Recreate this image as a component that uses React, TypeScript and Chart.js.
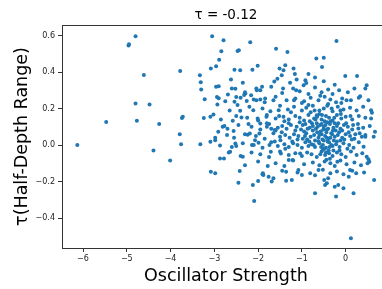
import React, { useEffect, useRef } from "react";
import { Chart, registerables } from "chart.js";

Chart.register(...registerables);

const titleText = "τ = -0.12";
const xTitle = "Oscillator Strength";
const yTitle = "τ(Half-Depth Range)";
const xTickValues = [-6, -5, -4, -3, -2, -1, 0];
const xTickLabels = ["−6", "−5", "−4", "−3", "−2", "−1", "0"];
const yTickValues = [-0.4, -0.2, 0, 0.2, 0.4, 0.6];
const yTickLabels = ["−0.4", "−0.2", "0.0", "0.2", "0.4", "0.6"];

// Outlying / sparse points
const outerPoints: number[][] = [
  [-6.13, 0.0], [-5.47, 0.127], [-4.96, 0.546], [-4.95, 0.553], [-4.8, 0.596], [-4.8, 0.228],
  [-4.77, 0.133], [-4.61, 0.384], [-4.48, 0.222], [-4.39, -0.03], [-4.26, 0.115], [-4.01, -0.084],
  [-3.78, 0.406], [-3.79, 0.06], [-3.76, 0.004], [-3.74, 0.149], [-3.72, 0.155], [-3.33, 0.383],
  [-3.31, 0.344], [-3.3, 0.304], [-3.22, 0.251], [-3.32, 0.004], [-3.24, 0.149], [-3.08, -0.146],
  [-2.98, -0.155], [-3.05, 0.596], [-3.08, 0.419], [-3.09, 0.155], [-3.02, 0.168], [-3.09, 0.018],
  [-2.98, 0.04], [-2.98, 0.026], [-2.96, 0.432], [-2.96, 0.319], [-2.9, 0.322], [-2.94, 0.264],
  [-2.9, 0.257], [-2.93, 0.222], [-2.87, -0.002], [-2.87, -0.073], [-2.78, -0.073], [-2.91, 0.073],
  [-2.89, 0.468], [-2.84, 0.514], [-2.79, 0.574], [-2.77, 0.104], [-2.81, 0.1], [-2.71, 0.055],
  [-2.69, 0.277], [-2.67, -0.04], [-2.64, -0.036], [-2.62, 0.359], [-2.58, 0.133], [-2.56, 0.077],
  [-2.54, 0.237], [-2.52, 0.308], [-2.5, 0.264], [-2.54, 0.413], [-2.52, 0.009], [-2.5, -0.005],
  [-2.47, 0.516], [-2.44, 0.519], [-2.45, -0.206], [-2.42, -0.142], [-2.41, 0.41], [-2.47, 0.219],
  [-2.41, 0.188], [-2.38, 0.151], [-2.35, 0.341], [-2.35, -0.064], [-2.32, 0.275], [-2.29, 0.282],
  [-2.26, 0.242], [-2.24, 0.056], [-2.22, 0.115], [-2.19, 0.064], [-2.18, 0.563], [-2.16, 0.273],
  [-2.14, 0.0], [-2.12, -0.219], [-2.13, 0.413], [-2.11, 0.191], [-2.09, -0.306], [-2.07, 0.027],
  [-2.04, 0.31], [-2.03, 0.3], [-2.04, 0.246], [-2.01, 0.435], [-2.01, 0.146], [-2.0, -0.197],
  [-1.99, 0.013], [-1.97, 0.064], [-1.95, 0.118], [-1.95, 0.25], [-1.91, 0.319], [-1.89, -0.155],
  [-1.88, -0.164], [-1.81, 0.155], [-1.84, 0.255], [-1.8, 0.1], [-1.78, -0.115], [-1.76, -0.173],
  [-1.74, 0.0], [-1.71, -0.036], [-1.69, -0.2], [-1.65, -0.182], [-1.63, 0.348], [-1.65, 0.246],
  [-1.62, 0.082], [-1.59, 0.528], [-1.56, 0.364], [-1.53, 0.191], [-1.51, 0.419], [-1.49, 0.027],
  [-1.48, -0.046], [-1.46, 0.383], [-1.43, 0.31], [-1.42, 0.41], [-1.38, 0.437], [-1.36, -0.146],
  [-1.36, -0.195], [-1.33, 0.51], [-1.3, -0.082], [-1.27, 0.341], [-1.23, -0.191], [-1.21, -0.082],
  [-1.19, 0.419], [-1.18, 0.246], [-1.16, 0.39], [-1.13, 0.3], [-1.08, -0.137], [-1.04, -0.046],
  [-1.0, -0.164], [-0.96, 0.328], [-0.92, 0.355], [-0.85, 0.39], [-0.81, -0.155], [-0.7, -0.264],
  [-0.67, 0.474], [-0.66, 0.164], [-0.62, -0.137], [-0.54, 0.428], [-0.5, 0.479], [-0.49, -0.191],
  [-0.47, -0.219], [-0.43, -0.209], [-0.4, -0.182], [-0.25, -0.228], [-0.22, -0.282], [-0.21, 0.57],
  [-0.19, -0.091], [-0.17, -0.219], [-0.05, -0.237], [-0.01, 0.379], [0.02, 0.246], [0.07, -0.173],
  [0.1, -0.137], [0.12, -0.51], [0.18, -0.264], [0.24, -0.155], [0.26, 0.379], [0.33, 0.268],
  [0.45, 0.31], [0.48, 0.328], [0.52, 0.246], [0.54, -0.091], [0.58, 0.191], [0.6, 0.177],
  [0.58, 0.146], [0.64, 0.046], [0.67, 0.073], [0.65, -0.191], [0.48, -0.064], [0.52, -0.078],
  [0.41, -0.009], [0.45, 0.055], [0.37, 0.046], [0.29, 0.091],
];

// Dense central cloud
const corePoints: number[][] = [
  [-2.6, 0.31], [-2.3, 0.29], [-1.95, 0.3], [-1.7, 0.32], [-1.45, 0.285], [-1.2, 0.31], [-1.05, 0.295],
  [-0.85, 0.28], [-0.7, 0.315], [-0.55, 0.29], [-0.4, 0.305], [-0.3, 0.28], [-0.15, 0.3], [0.05, 0.29], [0.2, 0.31],
  [-2.75, 0.24], [-2.4, 0.26], [-2.1, 0.25], [-1.85, 0.235], [-1.6, 0.265], [-1.35, 0.245], [-1.15, 0.255],
  [-0.95, 0.24], [-0.8, 0.26], [-0.62, 0.245], [-0.48, 0.265], [-0.35, 0.25], [-0.22, 0.235], [-0.08, 0.255],
  [0.12, 0.245], [0.3, 0.26],
  [-2.65, 0.19], [-2.2, 0.21], [-1.9, 0.2], [-1.72, 0.185], [-1.5, 0.215], [-1.32, 0.195], [-1.18, 0.21],
  [-1.0, 0.19], [-0.9, 0.205], [-0.75, 0.215], [-0.6, 0.19], [-0.5, 0.2], [-0.42, 0.215], [-0.3, 0.185],
  [-0.18, 0.21], [-0.05, 0.195], [0.1, 0.205], [0.25, 0.19], [0.4, 0.21],
  [-2.85, 0.14], [-2.5, 0.16], [-2.25, 0.15], [-2.0, 0.135], [-1.8, 0.165], [-1.6, 0.145], [-1.42, 0.155],
  [-1.3, 0.14], [-1.15, 0.16], [-1.05, 0.15], [-0.95, 0.135], [-0.85, 0.165], [-0.72, 0.145], [-0.65, 0.155],
  [-0.55, 0.14], [-0.45, 0.16], [-0.38, 0.15], [-0.3, 0.135], [-0.2, 0.165], [-0.1, 0.145], [0.0, 0.155],
  [0.15, 0.14], [0.3, 0.16], [0.45, 0.15],
  [-2.7, 0.09], [-2.45, 0.11], [-2.15, 0.1], [-1.95, 0.085], [-1.75, 0.115], [-1.55, 0.095], [-1.45, 0.105],
  [-1.35, 0.09], [-1.25, 0.11], [-1.12, 0.1], [-1.02, 0.085], [-0.92, 0.115], [-0.82, 0.095], [-0.75, 0.105],
  [-0.68, 0.09], [-0.58, 0.11], [-0.5, 0.1], [-0.43, 0.085], [-0.36, 0.115], [-0.28, 0.095], [-0.2, 0.105],
  [-0.12, 0.09], [-0.04, 0.11], [0.05, 0.1], [0.15, 0.085], [0.28, 0.115], [0.4, 0.095], [0.55, 0.105],
  [-2.55, 0.04], [-2.3, 0.06], [-2.05, 0.05], [-1.85, 0.035], [-1.65, 0.065], [-1.5, 0.045], [-1.38, 0.055],
  [-1.28, 0.04], [-1.18, 0.06], [-1.08, 0.05], [-0.98, 0.035], [-0.9, 0.065], [-0.8, 0.045], [-0.72, 0.055],
  [-0.62, 0.04], [-0.55, 0.06], [-0.47, 0.05], [-0.4, 0.035], [-0.33, 0.065], [-0.25, 0.045], [-0.18, 0.055],
  [-0.08, 0.04], [0.0, 0.06], [0.1, 0.05], [0.2, 0.035], [0.32, 0.065], [0.45, 0.045],
  [-2.6, -0.01], [-2.35, 0.01], [-2.1, 0.0], [-1.9, -0.015], [-1.7, 0.015], [-1.55, -0.005], [-1.4, 0.005],
  [-1.3, -0.01], [-1.2, 0.01], [-1.1, 0.0], [-1.0, -0.015], [-0.92, 0.015], [-0.85, -0.005], [-0.78, 0.005],
  [-0.7, -0.01], [-0.6, 0.01], [-0.52, 0.0], [-0.45, -0.015], [-0.38, 0.015], [-0.3, -0.005], [-0.22, 0.005],
  [-0.14, -0.01], [-0.05, 0.01], [0.08, 0.0], [0.18, -0.015], [0.3, 0.015],
  [-2.4, -0.06], [-2.15, -0.04], [-1.95, -0.05], [-1.75, -0.065], [-1.5, -0.035], [-1.3, -0.055], [-1.15, -0.045],
  [-1.0, -0.06], [-0.88, -0.04], [-0.78, -0.05], [-0.66, -0.065], [-0.55, -0.035], [-0.47, -0.055], [-0.38, -0.045],
  [-0.3, -0.06], [-0.2, -0.04], [-0.1, -0.05], [0.0, -0.065], [0.12, -0.035], [0.25, -0.055], [0.38, -0.045],
  [-2.3, -0.11], [-2.0, -0.09], [-1.6, -0.1], [-1.4, -0.115], [-1.2, -0.085], [-0.95, -0.105], [-0.75, -0.095],
  [-0.6, -0.11], [-0.48, -0.09], [-0.35, -0.1], [-0.25, -0.115], [-0.12, -0.085], [0.02, -0.105], [0.2, -0.095],
  [0.35, -0.11], [0.5, -0.1],
  [-1.9, -0.16], [-1.45, -0.14], [-1.1, -0.15], [-0.7, -0.165], [-0.52, -0.135], [-0.35, -0.155], [-0.2, -0.145],
  [-0.05, -0.16], [0.15, -0.14], [0.42, -0.15],
  [-0.62, 0.02], [-0.57, 0.075], [-0.53, 0.03], [-0.49, -0.02], [-0.44, 0.07], [-0.41, 0.02], [-0.39, -0.03],
  [-0.35, 0.04], [-0.33, 0.0], [-0.29, 0.08], [-0.27, 0.025], [-0.42, 0.125], [-0.48, 0.13], [-0.55, 0.115],
  [-0.65, 0.07], [-0.7, 0.025], [-0.75, 0.08], [-0.82, 0.13], [-0.88, 0.03], [-0.95, 0.075], [-1.05, 0.125],
  [-1.1, 0.03], [-0.36, -0.075], [-0.44, -0.08], [-0.52, -0.025], [-0.25, 0.12], [-0.15, 0.07], [-0.12, 0.025],
  [-0.6, 0.17], [-0.8, 0.18], [-1.0, 0.23], [-1.25, 0.18], [-1.4, 0.13], [-1.6, 0.08], [-1.8, 0.12],
  [-0.4, 0.225], [-0.58, 0.27], [-0.9, 0.34], [-1.12, 0.36], [-0.7, 0.37], [-0.5, 0.35], [-0.25, 0.33], [-0.1, 0.23],
];

// Extra points in the densest part of the cloud
const densePoints: number[][] = [
  [-0.98, 0.11], [-0.93, 0.05], [-0.87, 0.09], [-0.83, 0.02], [-0.77, 0.12], [-0.73, 0.0], [-0.69, 0.14],
  [-0.64, 0.1], [-0.6, 0.055], [-0.56, -0.01], [-0.54, 0.165], [-0.51, 0.085], [-0.46, 0.11], [-0.43, 0.04],
  [-0.4, 0.09], [-0.37, -0.01], [-0.34, 0.13], [-0.31, 0.06], [-0.28, -0.03], [-0.26, 0.15], [-0.23, 0.08],
  [-0.2, 0.02], [-0.17, 0.12], [-0.14, -0.03], [-0.11, 0.17], [-0.08, 0.08], [-0.03, 0.03], [0.01, 0.12],
  [0.04, -0.02], [0.07, 0.07], [0.11, 0.16], [0.14, 0.03], [0.17, 0.11], [0.22, 0.06], [-1.15, 0.08],
  [-1.22, 0.02], [-1.3, 0.12], [-1.38, -0.02], [-1.46, 0.07], [-1.52, 0.16], [-1.62, 0.02], [-1.7, 0.09],
  [-0.45, -0.04], [-0.5, 0.025], [-0.58, -0.05], [-0.66, 0.12], [-0.71, 0.19], [-0.85, 0.22], [-0.32, 0.2],
  [-0.12, 0.19],
];

const X_MIN = -6.48;
const X_MAX = 0.83;
const X_FULL_MAX = 1.01; // full axis extent (partly cropped off the right edge)
const Y_MIN = -0.564;
const Y_MAX = 0.658;

const FONT = "'DejaVu Sans', sans-serif";

const decorations = {
  id: "decorations",
  afterDraw(chart: any) {
    const { ctx, chartArea } = chart;
    const span = chartArea.right - chartArea.left;
    const fullRight = chartArea.left + (span * (X_FULL_MAX - X_MIN)) / (X_MAX - X_MIN);
    const cx = (chartArea.left + fullRight) / 2;
    ctx.save();
    ctx.strokeStyle = "#333";
    ctx.lineWidth = 1;
    ctx.beginPath();
    ctx.moveTo(chartArea.left, Math.round(chartArea.top) + 0.5);
    ctx.lineTo(chartArea.right, Math.round(chartArea.top) + 0.5);
    ctx.stroke();
    ctx.fillStyle = "#000";
    ctx.textAlign = "center";
    ctx.textBaseline = "middle";
    ctx.font = `13.5px ${FONT}`;
    ctx.fillText(titleText, cx, 15);
    ctx.font = `17.5px ${FONT}`;
    ctx.fillText(xTitle, cx, 276);
    ctx.restore();
  },
};

export default function App() {
  const ref = useRef<HTMLCanvasElement>(null);
  useEffect(() => {
    if (!ref.current) return;
    const data = [...outerPoints, ...corePoints, ...densePoints].map(([x, y]) => ({ x, y }));
    const chart = new Chart(ref.current, {
      type: "scatter",
      data: {
        datasets: [
          {
            data,
            backgroundColor: "#1f77b4",
            borderWidth: 0,
            pointRadius: 2,
            hoverRadius: 2,
          },
        ],
      },
      plugins: [decorations],
      options: {
        animation: false,
        responsive: false,
        devicePixelRatio: 1,
        layout: { autoPadding: false, padding: { top: 25, right: 0, bottom: 0, left: 0 } },
        plugins: {
          legend: { display: false },
          tooltip: { enabled: false },
          title: { display: false },
        },
        scales: {
          x: {
            type: "linear",
            min: X_MIN,
            max: X_MAX,
            afterBuildTicks: (scale: any) => {
              scale.ticks = xTickValues.map((v) => ({ value: v }));
            },
            afterFit: (scale: any) => {
              scale.height = 41;
              scale.paddingLeft = 0;
              scale.paddingRight = 0;
            },
            ticks: {
              callback: (v: any) => {
                const i = xTickValues.indexOf(Number(v));
                return i >= 0 ? xTickLabels[i] : "";
              },
              color: "#222",
              font: { family: FONT, size: 8 },
              padding: 2,
              maxRotation: 0,
              autoSkip: false,
            },
            grid: { drawOnChartArea: false, drawTicks: true, tickLength: 4, tickColor: "#333" },
            border: { display: true, color: "#333", width: 1 },
            title: { display: false },
          },
          y: {
            type: "linear",
            min: Y_MIN,
            max: Y_MAX,
            afterBuildTicks: (scale: any) => {
              scale.ticks = yTickValues.map((v) => ({ value: v }));
            },
            afterFit: (scale: any) => {
              scale.width = 62;
              scale.paddingTop = 0;
              scale.paddingBottom = 0;
            },
            ticks: {
              callback: (v: any) => {
                const i = yTickValues.findIndex((t) => Math.abs(t - Number(v)) < 1e-9);
                return i >= 0 ? yTickLabels[i] : "";
              },
              color: "#222",
              font: { family: FONT, size: 8 },
              padding: 3,
              autoSkip: false,
            },
            grid: { drawOnChartArea: false, drawTicks: true, tickLength: 4, tickColor: "#333" },
            border: { display: true, color: "#333", width: 1 },
            title: {
              display: true,
              text: yTitle,
              color: "#000",
              font: { family: FONT, size: 17.5, lineHeight: 1.2 },
              padding: { top: 12, bottom: 0 },
            },
          },
        },
      },
    } as any);
    return () => chart.destroy();
  }, []);
  return (
    <div style={{ position: "fixed", left: 0, top: 0, width: 382, height: 289, background: "#fff" }}>
      <canvas ref={ref} width={382} height={289} style={{ width: 382, height: 289 }} />
    </div>
  );
}
